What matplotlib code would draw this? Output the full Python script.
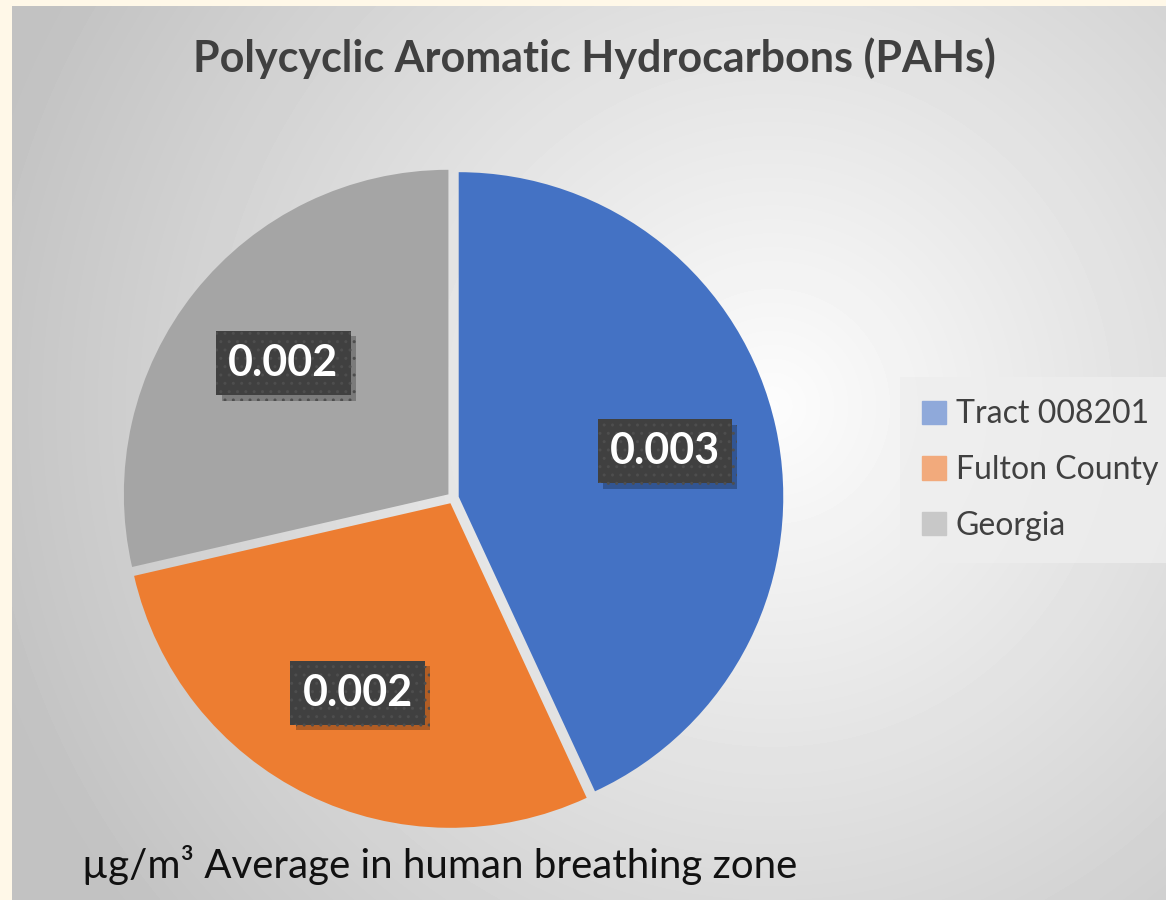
import numpy as np
import matplotlib.pyplot as plt
import matplotlib.patheffects as pe

plt.rcParams['font.family'] = ['Lato', 'DejaVu Sans']

labels = ['Tract 008201', 'Fulton County', 'Georgia']
values = [0.0030, 0.00197, 0.00199]
colors = ['#4472C4', '#ED7D31', '#A5A5A5']
legend_colors = ['#8FA9DA', '#F2AA7C', '#C8C8C8']

fig = plt.figure(figsize=(11.66, 9), dpi=100)
fig.patch.set_facecolor('#FFF8E8')

# gradient background of the chart area
bg = fig.add_axes([12/1166, 0, 1 - 12/1166, 1 - 6/900])
yy, xx = np.mgrid[0:894, 0:1154]
d = np.sqrt((xx - 760) ** 2 + (yy - 400) ** 2) / 820
d = np.clip(d, 0, 1)
shade = 0.99 - 0.23 * d
bg.imshow(shade, cmap='gray', vmin=0, vmax=1, aspect='auto', interpolation='bilinear')
bg.axis('off')

ax = fig.add_axes([83/1166, 1 - 868/900, 740/1166, 740/900])
wedges, texts, autotexts = ax.pie(
    values, colors=colors, startangle=90, counterclock=False,
    explode=[0.018, 0.018, 0.018], autopct=lambda p: f'{p/100*sum(values):.3f}',
    pctdistance=0.65, wedgeprops=dict(linewidth=0))
ax.set_xlim(-1.14, 1.14)
ax.set_ylim(-1.14, 1.14)
ax.set_aspect('equal')

for t in autotexts:
    t.set_color('white')
    t.set_fontsize(31)
    t.set_fontweight('bold')
    t.set_bbox(dict(boxstyle='square,pad=0.28', facecolor='#404040', edgecolor='#4e4e4e',
                    hatch='..', linewidth=0))
    t.get_bbox_patch().set_path_effects([pe.SimplePatchShadow(offset=(4, -4), shadow_rgbFace='black', alpha=0.25),
                                          pe.Normal()])

fig.text(0.51, 0.935, 'Polycyclic Aromatic Hydrocarbons (PAHs)', ha='center', va='center',
         fontsize=31, fontweight='bold', color='#404040')
fig.text(82/1166, 1 - 878/900, 'µg/m³ Average in human breathing zone', ha='left', va='baseline',
         fontsize=29, color='#111111')

leg = fig.legend([plt.Rectangle((0, 0), 1, 1, color=c) for c in legend_colors], labels,
                 loc='center left', bbox_to_anchor=(900/1166, 1 - 470/900), fontsize=23,
                 frameon=True, handlelength=0.75, handleheight=0.75, handletextpad=0.3,
                 labelspacing=0.8, borderpad=0.7, borderaxespad=0, fancybox=False,
                 labelcolor='#404040')
leg.get_frame().set_facecolor('#EEEEEE')
leg.get_frame().set_edgecolor('none')
leg.get_frame().set_alpha(0.8)

fig.savefig('out.png', dpi=100, facecolor=fig.get_facecolor())
